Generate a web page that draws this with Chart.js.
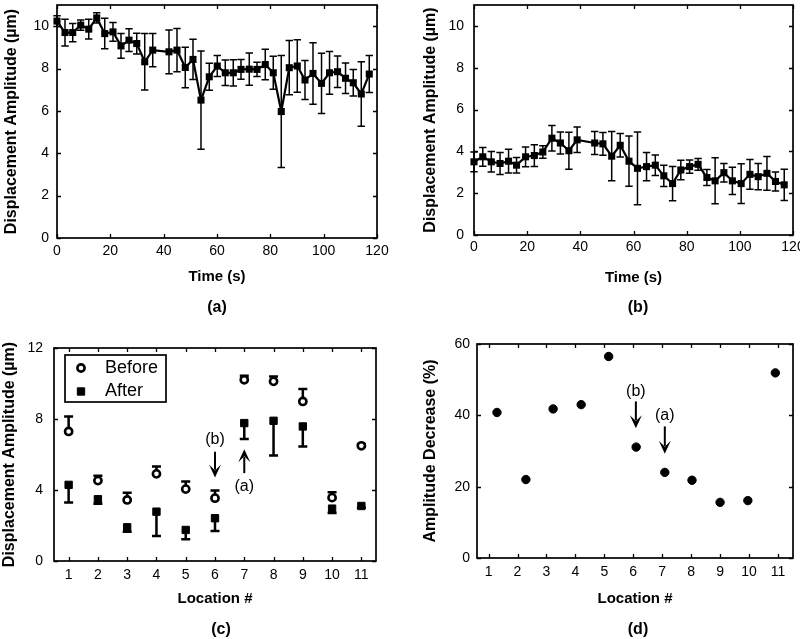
<!DOCTYPE html>
<html><head><meta charset="utf-8">
<script src="https://cdn.jsdelivr.net/npm/chart.js@4/dist/chart.umd.min.js"></script>
<style>
html,body{margin:0;padding:0;background:#fff;}
#wrap{position:relative;width:800px;height:639px;overflow:hidden;background:#fff;}
canvas{position:absolute;display:block;}
.cap{position:absolute;font:bold 16px "Liberation Sans",Arial,sans-serif;color:#000;transform:translate(-50%,-50%);white-space:nowrap;}
</style></head><body>
<div id="wrap">
<canvas id="ca" width="400" height="320" style="left:0;top:0"></canvas>
<canvas id="cb" width="400" height="320" style="left:400px;top:0"></canvas>
<canvas id="cc" width="400" height="319" style="left:0;top:320px"></canvas>
<canvas id="cd" width="400" height="319" style="left:400px;top:320px"></canvas>
<div class="cap" style="left:217px;top:307px">(a)</div>
<div class="cap" style="left:638px;top:307px">(b)</div>
<div class="cap" style="left:221px;top:629px">(c)</div>
<div class="cap" style="left:638px;top:629px">(d)</div>
</div>
<script>
// ---------- data ----------
// Panel (a)
const timeA = [0,3.0,5.9,8.9,11.9,14.9,17.9,21.0,24.0,27.0,29.9,32.9,35.9,42.0,45.0,48.1,51.0,54.0,57.1,60.1,63.1,66.1,69.0,72.1,75.0,78.1,81.1,84.1,87.1,90.1,93.0,96.0,99.2,102.2,105.2,108.2,111.1,114.1,117.1];
const ampA  = [10.24,9.70,9.70,10.05,9.86,10.39,9.65,9.73,9.07,9.34,9.18,8.32,8.87,8.79,8.87,8.05,8.43,6.51,7.61,8.12,7.80,7.80,7.96,7.97,7.96,8.19,7.80,5.97,8.04,8.12,7.46,7.77,7.30,7.80,7.85,7.54,7.33,6.80,7.74];
const errA  = [0.25,0.63,0.43,0.24,0.47,0.24,0.72,0.44,0.58,0.54,0.49,1.33,0.78,1.03,1.02,0.96,0.95,2.32,0.64,0.50,0.60,0.62,0.47,0.76,0.34,0.72,0.78,2.64,1.28,1.24,0.92,1.45,1.42,1.01,0.74,0.72,0.63,1.52,0.87];
// Panel (b)
const timeB = [0,3.3,6.5,9.8,13.0,16.0,19.4,22.7,25.9,29.3,32.5,35.7,38.8,45.4,48.5,51.8,55.0,58.3,61.5,64.9,68.2,71.4,74.7,77.8,81.1,84.3,87.6,90.7,94.0,97.2,100.5,103.8,106.9,110.2,113.4,116.7];
const ampB  = [3.50,3.74,3.50,3.42,3.53,3.34,3.74,3.80,3.97,4.63,4.40,4.03,4.55,4.40,4.36,3.77,4.29,3.53,3.19,3.27,3.34,2.83,2.46,3.11,3.27,3.38,2.75,2.59,2.98,2.59,2.46,2.90,2.79,2.95,2.56,2.40];
const errB  = [0.47,0.45,0.49,0.53,0.57,0.37,0.47,0.52,0.30,0.61,0.53,0.88,0.61,0.55,0.54,1.18,0.56,1.20,1.74,0.68,0.49,0.51,0.82,0.47,0.32,0.28,0.38,1.10,0.44,0.65,0.95,0.71,0.63,0.81,0.45,0.75];
const timeTicks = [0,20,40,60,80,100,120];
const ampTicks  = [0,2,4,6,8,10];
// Panel (c)
const locations = [1,2,3,4,5,6,7,8,9,10,11];
const before    = [7.30,4.53,3.44,4.91,4.05,3.54,10.21,10.12,8.99,3.57,6.49];
const beforeErr = [0.84,0.27,0.41,0.41,0.43,0.43,0.23,0.28,0.70,0.31,0.10];
const after     = [4.29,3.48,1.90,2.78,1.75,2.41,7.77,7.90,7.58,2.95,3.10];
const afterErr  = [1.00,0.26,0.25,1.37,0.53,0.72,0.89,1.96,1.13,0.25,0.10];
const ampTicksC = [0,4,8,12];
const notesC = [
  {text:'(b)', x:6, textY:6.83, from:6.15, to:4.70},
  {text:'(a)', x:7, textY:4.19, from:4.95, to:6.30}
];
// Panel (d)
const decreaseLoc = [1.29,2.29,3.23,4.20,5.15,6.10,7.09,8.03,9.00,9.96,10.91];
const decrease    = [40.8,22.0,41.8,43.0,56.5,31.1,24.0,21.8,15.6,16.1,51.9];
const pctTicks = [0,20,40,60];
const notesD = [
  {text:'(b)', x:6.09, textY:46.6, from:43.9, to:36.4},
  {text:'(a)', x:7.09, textY:39.9, from:36.9, to:29.2}
];

// ---------- helpers ----------
const FONT = '"Liberation Sans", Arial, Helvetica, sans-serif';
const pts = (xs, ys) => xs.map((x, i) => ({x, y: ys[i]}));

function axis(isX, o) {
  return {
    type: 'linear', position: isX ? 'bottom' : 'left',
    min: o.min, max: o.max,
    grid: {display: false, drawTicks: false}, border: {display: false},
    ticks: {color: '#000', font: {family: FONT, size: 14}, padding: o.tickPad, maxRotation: 0, autoSkip: false},
    title: {display: true, text: o.title, color: '#000',
            font: {family: FONT, size: isX ? 15 : 16, weight: 'bold'},
            padding: isX ? {top: 0, bottom: o.titlePad} : {top: o.titlePad, bottom: 0}},
    afterBuildTicks: s => { s.ticks = o.ticks.map(v => ({value: v})); },
    afterFit: s => {
      if (isX) s.height = o.size; else s.width = o.size;
      s.paddingLeft = s.paddingRight = s.paddingTop = s.paddingBottom = 0;
    }
  };
}

const framePlugin = {
  id: 'frame',
  beforeDatasetsDraw(chart) {
    const {ctx, chartArea: a, scales: {x, y}} = chart;
    ctx.save();
    ctx.strokeStyle = '#000';
    ctx.lineWidth = 1.3;
    const L = 4;
    ctx.beginPath();
    x.ticks.forEach(t => {
      const p = Math.round(x.getPixelForValue(t.value)) + 0.5;
      ctx.moveTo(p, a.bottom); ctx.lineTo(p, a.bottom - L);
      ctx.moveTo(p, a.top); ctx.lineTo(p, a.top + L);
    });
    y.ticks.forEach(t => {
      const p = Math.round(y.getPixelForValue(t.value)) + 0.5;
      ctx.moveTo(a.left, p); ctx.lineTo(a.left + L, p);
      ctx.moveTo(a.right, p); ctx.lineTo(a.right - L, p);
    });
    ctx.stroke();
    ctx.lineWidth = 1.7;
    ctx.strokeRect(a.left, a.top, a.right - a.left, a.bottom - a.top);
    ctx.restore();
  }
};

const errorPlugin = {
  id: 'errorBars',
  beforeDatasetsDraw(chart) {
    const {ctx, scales: {x, y}} = chart;
    chart.data.datasets.forEach(ds => {
      if (!ds.errors) return;
      ctx.save();
      ctx.strokeStyle = ds.errorColor || '#000';
      ctx.lineWidth = ds.errorWidth || 1.2;
      const hw = ds.capHalf || 3.5;
      const up = ds.errorDir !== 'down', dn = ds.errorDir !== 'up';
      ds.data.forEach((p, j) => {
        const e = ds.errors[j];
        const px = x.getPixelForValue(p.x);
        const yt = y.getPixelForValue(up ? p.y + e : p.y);
        const yb = y.getPixelForValue(dn ? p.y - e : p.y);
        ctx.beginPath();
        ctx.moveTo(px, yt); ctx.lineTo(px, yb);
        if (up) { ctx.moveTo(px - hw, yt); ctx.lineTo(px + hw, yt); }
        if (dn) { ctx.moveTo(px - hw, yb); ctx.lineTo(px + hw, yb); }
        ctx.stroke();
      });
      ctx.restore();
    });
  }
};

function arrowPlugin(notes) {
  return {
    id: 'arrows',
    afterDatasetsDraw(chart) {
      const {ctx, scales: {x, y}} = chart;
      ctx.save();
      ctx.fillStyle = '#000'; ctx.strokeStyle = '#000';
      ctx.font = '16px ' + FONT;
      ctx.textAlign = 'center'; ctx.textBaseline = 'middle';
      notes.forEach(n => {
        const px = x.getPixelForValue(n.x);
        ctx.fillText(n.text, px, y.getPixelForValue(n.textY));
        const y0 = y.getPixelForValue(n.from), y1 = y.getPixelForValue(n.to);
        const dir = Math.sign(y1 - y0);
        const hl = 13, hw = 6;
        ctx.lineWidth = 2;
        ctx.beginPath(); ctx.moveTo(px, y0); ctx.lineTo(px, y1 - dir * hl * 0.6); ctx.stroke();
        ctx.beginPath();
        ctx.moveTo(px, y1);
        ctx.lineTo(px - hw, y1 - dir * hl);
        ctx.lineTo(px, y1 - dir * hl * 0.55);
        ctx.lineTo(px + hw, y1 - dir * hl);
        ctx.closePath(); ctx.fill();
      });
      ctx.restore();
    }
  };
}

const boxLegendPlugin = {
  id: 'boxLegend',
  afterDraw(chart) {
    const {ctx, chartArea: a} = chart;
    const bx = a.left + 11, by = a.top + 7, bw = 101, bh = 47;
    ctx.save();
    ctx.fillStyle = '#fff'; ctx.fillRect(bx, by, bw, bh);
    ctx.strokeStyle = '#000'; ctx.lineWidth = 1.7; ctx.strokeRect(bx, by, bw, bh);
    chart.data.datasets.forEach((ds, i) => {
      const cy = by + 13 + i * 23.5;
      ctx.fillStyle = ds.backgroundColor; ctx.strokeStyle = ds.borderColor; ctx.lineWidth = ds.borderWidth;
      Chart.helpers.drawPoint(ctx, {pointStyle: ds.pointStyle, radius: ds.pointRadius, borderWidth: ds.borderWidth, rotation: 0}, bx + 16, cy);
      ctx.fillStyle = '#000';
      ctx.font = '18px ' + FONT; ctx.textAlign = 'left'; ctx.textBaseline = 'middle';
      ctx.fillText(ds.label, bx + 40, cy);
    });
    ctx.restore();
  }
};

const base = {
  responsive: false, animation: false, events: [],
  plugins: {legend: {display: false}, tooltip: {enabled: false}, title: {display: false}}
};

function timeChart(id, t, v, e, geo) {
  return new Chart(document.getElementById(id), {
    type: 'line',
    data: {datasets: [{
      label: 'Displacement', data: pts(t, v), errors: e, errorWidth: 1.5, capHalf: 3.7,
      borderColor: '#000', borderWidth: 2.2, backgroundColor: '#000',
      pointStyle: 'rect', pointRadius: 5, pointBackgroundColor: '#000', pointBorderWidth: 0,
      tension: 0, clip: false
    }]},
    options: Object.assign({}, base, {
      layout: {padding: {left: 0, top: geo.top, right: geo.right, bottom: 0}},
      scales: {
        x: axis(true, {min: 0, max: 120, ticks: timeTicks, title: 'Time (s)', tickPad: geo.xPad, titlePad: geo.xTitlePad, size: geo.xSize}),
        y: axis(false, {min: 0, max: 11, ticks: ampTicks, title: 'Displacement Amplitude (\u00b5m)', tickPad: geo.yPad, titlePad: geo.yTitlePad, size: geo.ySize})
      }
    }),
    plugins: [framePlugin, errorPlugin]
  });
}

timeChart('ca', timeA, ampA, errA, {top: 5, right: 23, xPad: 5, xTitlePad: 34, xSize: 82, yPad: 8, yTitlePad: 2.4, ySize: 57});
timeChart('cb', timeB, ampB, errB, {top: 2, right: 7, xPad: 4, xTitlePad: 33, xSize: 85, yPad: 10, yTitlePad: 21.4, ySize: 74});

new Chart(document.getElementById('cc'), {
  type: 'scatter',
  data: {datasets: [
    {label: 'Before', data: pts(locations, before), errors: beforeErr, errorDir: 'up', errorWidth: 2.5, capHalf: 4.5,
     pointStyle: 'circle', pointRadius: 3.6, borderWidth: 2.6, borderColor: '#000', backgroundColor: '#fff', clip: false},
    {label: 'After', data: pts(locations, after), errors: afterErr, errorDir: 'down', errorWidth: 2.5, capHalf: 4.5,
     pointStyle: 'rect', pointRadius: 5.2, borderWidth: 1, borderColor: '#000', backgroundColor: '#000', clip: false}
  ]},
  options: Object.assign({}, base, {
    layout: {padding: {left: 0, top: 28, right: 24, bottom: 0}},
    scales: {
      x: axis(true, {min: 0.5, max: 11.5, ticks: locations, title: 'Location #', tickPad: 5.5, titlePad: 31, size: 78}),
      y: axis(false, {min: 0, max: 12, ticks: ampTicksC, title: 'Displacement Amplitude (\u00b5m)', tickPad: 11, titlePad: 0, size: 54})
    }
  }),
  plugins: [framePlugin, errorPlugin, arrowPlugin(notesC), boxLegendPlugin]
});

new Chart(document.getElementById('cd'), {
  type: 'scatter',
  data: {datasets: [
    {label: 'Amplitude Decrease', data: pts(decreaseLoc, decrease),
     pointStyle: 'circle', pointRadius: 4.2, borderWidth: 1, borderColor: '#000', backgroundColor: '#000', clip: false}
  ]},
  options: Object.assign({}, base, {
    layout: {padding: {left: 0, top: 24, right: 7, bottom: 0}},
    scales: {
      x: axis(true, {min: 0.6, max: 11.52, ticks: locations, title: 'Location #', tickPad: 5.5, titlePad: 31, size: 81}),
      y: axis(false, {min: 0, max: 60, ticks: pctTicks, title: 'Amplitude Decrease (%)', tickPad: 7, titlePad: 21.4, size: 77})
    }
  }),
  plugins: [framePlugin, arrowPlugin(notesD)]
});
</script>
</body></html>
